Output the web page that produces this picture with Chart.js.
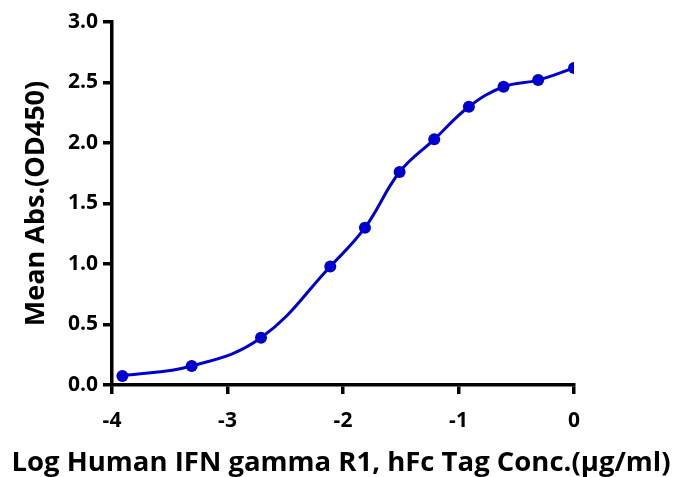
<!DOCTYPE html>
<html>
<head>
<meta charset="utf-8">
<script src="https://cdn.jsdelivr.net/npm/chart.js@4"></script>
<style>
  html, body { margin: 0; padding: 0; background: #fff; }
  #wrap { width: 678px; height: 477px; }
</style>
</head>
<body>
<div id="wrap"><canvas id="binding-chart" width="678" height="477"></canvas></div>
<script>
// log10 concentration (ug/ml) and mean OD450
const logConc = [-3.91, -3.31, -2.71, -2.11, -1.81, -1.51, -1.21, -0.91, -0.61, -0.31, 0];
const meanAbs = [0.075, 0.157, 0.39, 0.98, 1.30, 1.76, 2.03, 2.30, 2.465, 2.52, 2.62];
const xTicks = [-4, -3, -2, -1, 0];
const yTicks = [0, 0.5, 1.0, 1.5, 2.0, 2.5, 3.0];
const xTitle = 'Log Human IFN gamma R1, hFc Tag Conc.(\u00b5g/ml)';
const yTitle = 'Mean Abs.(OD450)';

const blue = "rgb(0, 0, 204)";
const fontFam = "'Open Sans', 'Noto Sans', sans-serif";

const points = logConc.map((x, i) => ({ x: x, y: meanAbs[i] }));

// chart.js squeezes the x title to the plot width, the original runs wider
const wideXTitle = {
    id: 'wideXTitle',
    afterDraw(chart) {
        const c = chart.ctx;
        const area = chart.chartArea;
        c.save();
        c.fillStyle = '#000';
        c.font = "bold 27.5px " + fontFam;
        c.textAlign = 'center';
        c.textBaseline = 'alphabetic';
        c.fillText(xTitle, (area.left + area.right) / 2 - 2, 471);
        c.restore();
    }
};

const ctx = document.querySelector('#binding-chart');

const bindingChart = new Chart(ctx, {
    type: 'scatter',
    data: {
        datasets: [{
            data: points,
            showLine: true,
            tension: 0.4,
            borderColor: blue,
            borderWidth: 3,
            backgroundColor: blue,
            pointRadius: 6,
            pointHoverRadius: 6,
            pointBorderWidth: 0
        }]
    },
    options: {
        responsive: false,
        maintainAspectRatio: false,
        animation: false,
        layout: {
            padding: { top: 22, right: 104, bottom: 4, left: 20 }
        },
        plugins: {
            legend: { display: false },
            tooltip: { enabled: false }
        },
        scales: {
            x: {
                type: 'linear',
                min: -4,
                max: 0,
                afterBuildTicks: (s) => { s.ticks = xTicks.map(v => ({ value: v })); },
                afterFit: (s) => { s.height = 88; },
                border: { color: '#000', width: 3.5 },
                grid: { drawOnChartArea: false, color: '#000', lineWidth: 3.5, tickLength: 9 },
                ticks: {
                    color: '#000',
                    padding: 14,
                    maxRotation: 0,
                    font: { family: fontFam, size: 21, weight: 'bold' },
                    callback: (v) => String(v)
                }
            },
            y: {
                type: 'linear',
                min: 0,
                max: 3,
                afterBuildTicks: (s) => { s.ticks = yTicks.map(v => ({ value: v })); },
                afterFit: (s) => { s.width = 92; },
                border: { color: '#000', width: 3.5 },
                grid: { drawOnChartArea: false, color: '#000', lineWidth: 3.5, tickLength: 9 },
                ticks: {
                    color: '#000',
                    padding: 5,
                    font: { family: fontFam, size: 21, weight: 'bold' },
                    callback: (v) => v.toFixed(1)
                },
                title: {
                    display: true,
                    text: yTitle,
                    color: '#000',
                    padding: { top: 0, bottom: 2 },
                    font: { family: fontFam, size: 27, weight: 'bold' }
                }
            }
        }
    },
    plugins: [wideXTitle]
});
</script>
</body>
</html>
